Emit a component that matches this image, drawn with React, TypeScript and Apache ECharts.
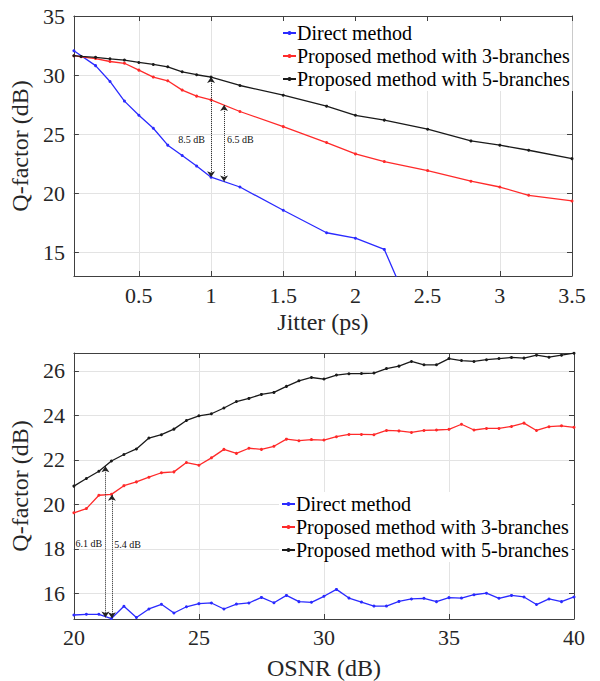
import React, { useEffect, useRef } from "react";
import * as echarts from "echarts";

// ---------- Top chart: Q-factor vs jitter ----------
const jitterDirectX = [0.05, 0.2, 0.3, 0.4, 0.5, 0.6, 0.7, 0.8, 0.9, 1.0, 1.2, 1.5, 1.8, 2.0, 2.2, 2.5];
const jitterDirect = [32.06, 30.8, 29.46, 27.8, 26.6, 25.5, 24.07, 23.2, 22.3, 21.36, 20.53, 18.56, 16.66, 16.2, 15.25, 6.8];
const jitterX = [0.05, 0.1, 0.2, 0.3, 0.4, 0.5, 0.6, 0.7, 0.8, 0.9, 1.0, 1.2, 1.5, 1.8, 2.0, 2.2, 2.5, 2.8, 3.0, 3.2, 3.5];
const jitter3 = [31.64, 31.55, 31.4, 31.15, 31.0, 30.42, 29.83, 29.52, 28.73, 28.22, 27.9, 26.92, 25.64, 24.29, 23.33, 22.68, 21.92, 21.02, 20.53, 19.83, 19.35];
const jitter5 = [31.64, 31.58, 31.5, 31.38, 31.27, 31.07, 30.9, 30.7, 30.28, 30.03, 29.83, 29.12, 28.3, 27.37, 26.6, 26.19, 25.42, 24.43, 24.07, 23.64, 22.93];

// ---------- Bottom chart: Q-factor vs OSNR ----------
const osnrX = [20, 20.5, 21, 21.5, 22, 22.5, 23, 23.5, 24, 24.5, 25, 25.5, 26, 26.5, 27, 27.5, 28, 28.5, 29, 29.5,
  30, 30.5, 31, 31.5, 32, 32.5, 33, 33.5, 34, 34.5, 35, 35.5, 36, 36.5, 37, 37.5, 38, 38.5, 39, 39.5, 40];
const osnrDirect = [15.03, 15.06, 15.06, 14.87, 15.42, 14.92, 15.3, 15.51, 15.12, 15.4,
  15.54, 15.57, 15.3, 15.52, 15.57, 15.82, 15.58, 15.91, 15.63, 15.6,
  15.87, 16.18, 15.79, 15.61, 15.43, 15.43, 15.64, 15.75, 15.78, 15.63,
  15.81, 15.79, 15.94, 16.01, 15.78, 15.91, 15.84, 15.5, 15.75, 15.63, 15.84];
const osnr3 = [19.62, 19.81, 20.41, 20.45, 20.84, 21.01, 21.22, 21.42, 21.46, 21.88,
  21.76, 22.09, 22.47, 22.29, 22.52, 22.47, 22.61, 22.93, 22.86, 22.91,
  22.89, 23.04, 23.14, 23.14, 23.13, 23.32, 23.3, 23.23, 23.32, 23.34,
  23.37, 23.6, 23.34, 23.41, 23.41, 23.5, 23.65, 23.32, 23.49, 23.53, 23.46];
const osnr5 = [20.82, 21.16, 21.49, 21.95, 22.24, 22.49, 22.98, 23.13, 23.38, 23.77,
  23.98, 24.07, 24.33, 24.62, 24.76, 24.94, 25.03, 25.3, 25.55, 25.7,
  25.63, 25.81, 25.87, 25.88, 25.9, 26.1, 26.21, 26.42, 26.27, 26.27,
  26.55, 26.46, 26.42, 26.5, 26.55, 26.6, 26.57, 26.7, 26.61, 26.7, 26.79];

const seriesNames = ["Direct method", "Proposed method with 3-branches", "Proposed method with 5-branches"];
const colors = ["#2a2aff", "#ff2a2a", "#1a1a1a"];

// annotations: [x, yTop, yBottom]
const topArrows = [[1.0, 29.83, 21.36], [1.09, 27.46, 20.99]];
const topArrowLabels = [["8.5 dB", 0.865, 24.58], ["6.5 dB", 1.203, 24.58]];
const botArrows = [[21.26, 21.71, 14.92], [21.52, 20.43, 14.88]];
const botArrowLabels = [["6.1 dB", 20.6, 18.22], ["5.4 dB", 22.15, 18.2]];

const FONT = "Liberation Serif";

const zip = (xs: number[], ys: number[]) => xs.map((x, i) => [x, ys[i]]);

function App() {
  const ref = useRef<HTMLDivElement>(null);
  useEffect(() => {
    document.body.style.margin = "0";
    const chart = echarts.init(ref.current!, null, { renderer: "svg" });

    const axisLine = { show: true, lineStyle: { color: "#404040", width: 1 } };
    const tick = { show: true, inside: true, length: 5, lineStyle: { color: "#404040" } };
    const split = { show: true, lineStyle: { color: "#e3e3e3", width: 1 } };
    const lbl = { fontFamily: FONT, fontSize: 22, color: "#262626" };
    const nameStyle = { fontFamily: FONT, fontSize: 24, color: "#262626" };

    const mkArrowLine = (arr: number[][]) => ({
      silent: true,
      symbol: ["arrow", "arrow"],
      symbolSize: 6,
      label: { show: false },
      lineStyle: { color: "#222", type: "dotted", width: 1 },
      data: arr.map(([x, y1, y2]) => [{ coord: [x, y1] }, { coord: [x, y2] }]),
    });
    const mkLabels = (arr: any[]) => ({
      silent: true,
      symbol: "circle",
      symbolSize: 0,
      data: arr.map(([t, x, y]) => ({
        coord: [x, y],
        label: { show: true, formatter: t, position: "inside", fontFamily: FONT, fontSize: 10, color: "#111" },
      })),
    });

    const line = (i: number, data: number[][], xi: number, yi: number, extra: any = {}) => ({
      type: "line",
      name: seriesNames[i],
      data,
      xAxisIndex: xi,
      yAxisIndex: yi,
      symbol: "circle",
      symbolSize: 3,
      showSymbol: true,
      clip: true,
      lineStyle: { color: colors[i], width: 1.3 },
      itemStyle: { color: colors[i] },
      z: 3 + i,
      ...extra,
    });

    const legendBase = {
      orient: "vertical",
      itemWidth: 13,
      itemHeight: 5,
      itemGap: 3,
      backgroundColor: "#fff",
      padding: [2, 3, 2, 2],
      textStyle: { fontFamily: FONT, fontSize: 20, color: "#000", lineHeight: 20, padding: [0, 0, 0, -4] },
      data: seriesNames,
      selectedMode: false,
    };

    chart.setOption({
      animation: false,
      backgroundColor: "#fff",
      textStyle: { fontFamily: FONT },
      grid: [
        { left: 72, top: 16, width: 500, height: 260 },
        { left: 71, top: 353, width: 503, height: 267 },
      ],
      legend: [
        { ...legendBase, left: 280, top: 21 },
        { ...legendBase, left: 279, top: 492 },
      ],
      xAxis: [
        {
          type: "value", gridIndex: 0, min: 0.05, max: 3.5, splitNumber: 7,
          axisLine, axisTick: tick, splitLine: split,
          axisLabel: { ...lbl, margin: 8, showMinLabel: false },
          name: "Jitter (ps)", nameLocation: "middle", nameGap: 34, nameTextStyle: nameStyle,
        },
        {
          type: "value", gridIndex: 0, min: 0.05, max: 3.5, splitNumber: 7, position: "top",
          axisLine, axisTick: tick, splitLine: { show: false }, axisLabel: { show: false },
        },
        {
          type: "value", gridIndex: 1, min: 20, max: 40, interval: 5,
          axisLine, axisTick: tick, splitLine: split,
          axisLabel: { ...lbl, margin: 7 },
          name: "OSNR (dB)", nameLocation: "middle", nameGap: 37, nameTextStyle: nameStyle,
        },
        {
          type: "value", gridIndex: 1, min: 20, max: 40, interval: 5, position: "top",
          axisLine, axisTick: tick, splitLine: { show: false }, axisLabel: { show: false },
        },
      ],
      yAxis: [
        {
          type: "value", gridIndex: 0, min: 13, max: 35, splitNumber: 5,
          axisLine, axisTick: tick, splitLine: split,
          axisLabel: { ...lbl, margin: 9, showMinLabel: false },
          name: "Q-factor (dB)", nameLocation: "middle", nameGap: 29, nameRotate: 90, nameTextStyle: nameStyle,
        },
        {
          type: "value", gridIndex: 0, min: 13, max: 35, splitNumber: 5, position: "right",
          axisLine, axisTick: tick, splitLine: { show: false }, axisLabel: { show: false },
        },
        {
          type: "value", gridIndex: 1, min: 14.85, max: 26.8, splitNumber: 5,
          axisLine, axisTick: tick, splitLine: split,
          axisLabel: { ...lbl, margin: 9, showMinLabel: false, showMaxLabel: false },
          name: "Q-factor (dB)", nameLocation: "middle", nameGap: 29, nameRotate: 90, nameTextStyle: nameStyle,
        },
        {
          type: "value", gridIndex: 1, min: 14.85, max: 26.8, splitNumber: 5, position: "right",
          axisLine, axisTick: tick, splitLine: { show: false }, axisLabel: { show: false },
        },
      ],
      series: [
        line(0, zip(jitterDirectX, jitterDirect), 0, 0, {
          markLine: mkArrowLine(topArrows),
          markPoint: mkLabels(topArrowLabels),
        }),
        line(1, zip(jitterX, jitter3), 0, 0),
        line(2, zip(jitterX, jitter5), 0, 0),
        line(0, zip(osnrX, osnrDirect), 2, 2, {
          markLine: mkArrowLine(botArrows),
          markPoint: mkLabels(botArrowLabels),
        }),
        line(1, zip(osnrX, osnr3), 2, 2),
        line(2, zip(osnrX, osnr5), 2, 2),
      ],
    });
    return () => chart.dispose();
  }, []);
  return <div ref={ref} style={{ width: 600, height: 681 }} />;
}

export default App;
